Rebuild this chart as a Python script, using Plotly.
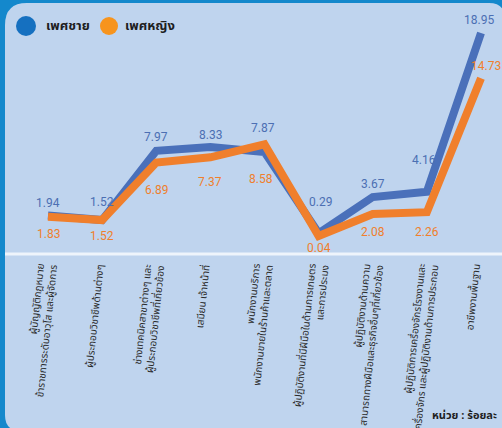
import plotly.graph_objects as go

# ---- data ----
categories = [
    "ผู้บัญญัติกฎหมาย<br>ข้าราชการระดับอาวุโส และผู้จัดการ",
    "ผู้ประกอบวิชาชีพด้านต่างๆ",
    "ช่างเทคนิคสาขาต่างๆ และ<br>ผู้ประกอบวิชาชีพที่เกี่ยวข้อง",
    "เสมียน เจ้าหน้าที่",
    "พนักงานบริการ<br>พนักงานขายในร้านค้าและตลาด",
    "ผู้ปฏิบัติงานที่มีฝีมือในด้านการเกษตร<br>และการประมง",
    "ผู้ปฏิบัติงานด้านความ<br>สามารถทางฝีมือและธุรกิจอื่นๆที่เกี่ยวข้อง",
    "ผู้ปฏิบัติการเครื่องจักรโรงงานและ<br>เครื่องจักร และผู้ปฏิบัติงานด้านการประกอบ",
    "อาชีพงานพื้นฐาน",
]
male = [1.94, 1.52, 7.97, 8.33, 7.87, 0.29, 3.67, 4.16, 18.95]
female = [1.83, 1.52, 6.89, 7.37, 8.58, 0.04, 2.08, 2.26, 14.73]
series_names = ["เพศชาย", "เพศหญิง"]
unit_note = "หน่วย : ร้อยละ"

# ---- styling ----
W, H = 502, 428
OUTER = "#1488cc"
PANEL = "#bfd4ee"
BLUE_LINE = "#4a70ba"
ORANGE_LINE = "#f07f2c"
BLUE_TXT = "#4c6fb3"
ORANGE_TXT = "#f07f2c"
NUM_FONT = "Liberation Sans Narrow, Roboto, sans-serif"
THAI_FONT = "Noto Sans Thai, Noto Sans, DejaVu Sans, sans-serif"

# label offsets (px) for data labels: (xshift, yshift)
male_off = [(0, 13), (0, 18), (0, 14), (0, 12), (-2, 24), (2, 31), (0, 13), (-3, 32), (-2, 13)]
female_off = [(0, -17), (0, -16), (0, -28), (0, -25), (-4, -35), (0, -12), (0, -18), (0, -20), (5, 12)]

x = list(range(len(male)))

def px(xp):
    return xp / W

def py(yp):
    return 1 - yp / H

fig = go.Figure()
fig.add_trace(go.Scatter(x=x, y=male, mode="lines", line=dict(color=BLUE_LINE, width=8),
                         name=series_names[0], showlegend=False, hoverinfo="skip"))
fig.add_trace(go.Scatter(x=x, y=female, mode="lines", line=dict(color=ORANGE_LINE, width=8),
                         name=series_names[1], showlegend=False, hoverinfo="skip"))

ann = []
for i, v in enumerate(male):
    ann.append(dict(x=i, y=v, xref="x", yref="y", text=f"{v:.2f}", showarrow=False,
                    xshift=male_off[i][0], yshift=male_off[i][1],
                    font=dict(family=NUM_FONT, size=12, color=BLUE_TXT)))
for i, v in enumerate(female):
    ann.append(dict(x=i, y=v, xref="x", yref="y", text=f"{v:.2f}", showarrow=False,
                    xshift=female_off[i][0], yshift=female_off[i][1],
                    font=dict(family=NUM_FONT, size=12, color=ORANGE_TXT)))

# category labels
for i, c in enumerate(categories):
    ann.append(dict(x=i, y=py(261), xref="x", yref="paper", text=c, showarrow=False,
                    textangle=-84, align="right", xanchor="center", yanchor="top",
                    xshift=-7, font=dict(family=THAI_FONT, size=10, color="#2b2b2b")))

# legend
ann.append(dict(x=px(44), y=py(26), xref="paper", yref="paper", text="<b>" + series_names[0] + "</b>",
                showarrow=False, xanchor="left", yanchor="middle",
                font=dict(family=THAI_FONT, size=13, color="#1e1e1e")))
ann.append(dict(x=px(123), y=py(26), xref="paper", yref="paper", text="<b>" + series_names[1] + "</b>",
                showarrow=False, xanchor="left", yanchor="middle",
                font=dict(family=THAI_FONT, size=13, color="#1e1e1e")))
# unit note
ann.append(dict(x=px(499), y=py(415), xref="paper", yref="paper", text="<b>" + unit_note + "</b>",
                showarrow=False, xanchor="right", yanchor="middle",
                font=dict(family=THAI_FONT, size=11, color="#1e1e1e")))

# panel with rounded corners
L, T, R, B = 5, 3, 505, 431
rtl, rtr, rbr, rbl = 22, 16, 12, 16
def P(a, b):
    return f"{px(a):.5f},{py(b):.5f}"
path = (f"M {P(L, T + rtl)} Q {P(L, T)} {P(L + rtl, T)} L {P(R - rtr, T)} "
        f"Q {P(R, T)} {P(R, T + rtr)} L {P(R, B - rbr)} Q {P(R, B)} {P(R - rbr, B)} "
        f"L {P(L + rbl, B)} Q {P(L, B)} {P(L, B - rbl)} Z")
shapes = [
    dict(type="path", path=path, xref="paper", yref="paper", fillcolor=PANEL,
         line=dict(width=0), layer="below"),
    dict(type="line", xref="paper", yref="paper", x0=px(5), x1=px(502), y0=py(254), y1=py(254),
         line=dict(color="#eef4fb", width=3), layer="below"),
    dict(type="circle", xref="paper", yref="paper", x0=px(16), x1=px(36), y0=py(36), y1=py(16),
         fillcolor="#1570c0", line=dict(width=0)),
    dict(type="circle", xref="paper", yref="paper", x0=px(100), x1=px(118), y0=py(35), y1=py(17),
         fillcolor="#f7941d", line=dict(width=0)),
]

# axis ranges so that category i sits at 48 + 54.125*i px and value 0 at 236.4 px (10.73 px/unit)
x0px, dx = 48.0, 54.125
y0px, dy = 236.4, 10.73
fig.update_layout(
    width=W, height=H, margin=dict(l=0, r=0, t=0, b=0, pad=0),
    paper_bgcolor=OUTER, plot_bgcolor="rgba(0,0,0,0)",
    xaxis=dict(range=[-x0px / dx, (W - x0px) / dx], visible=False, fixedrange=True),
    yaxis=dict(range=[(y0px - H) / dy, y0px / dy], visible=False, fixedrange=True),
    annotations=ann, shapes=shapes, showlegend=False,
)
fig.write_html("out.html",
               config={"displayModeBar": False},
               post_script="document.body.style.margin='0';document.body.style.padding='0';"
                           "document.body.style.overflow='hidden';")
